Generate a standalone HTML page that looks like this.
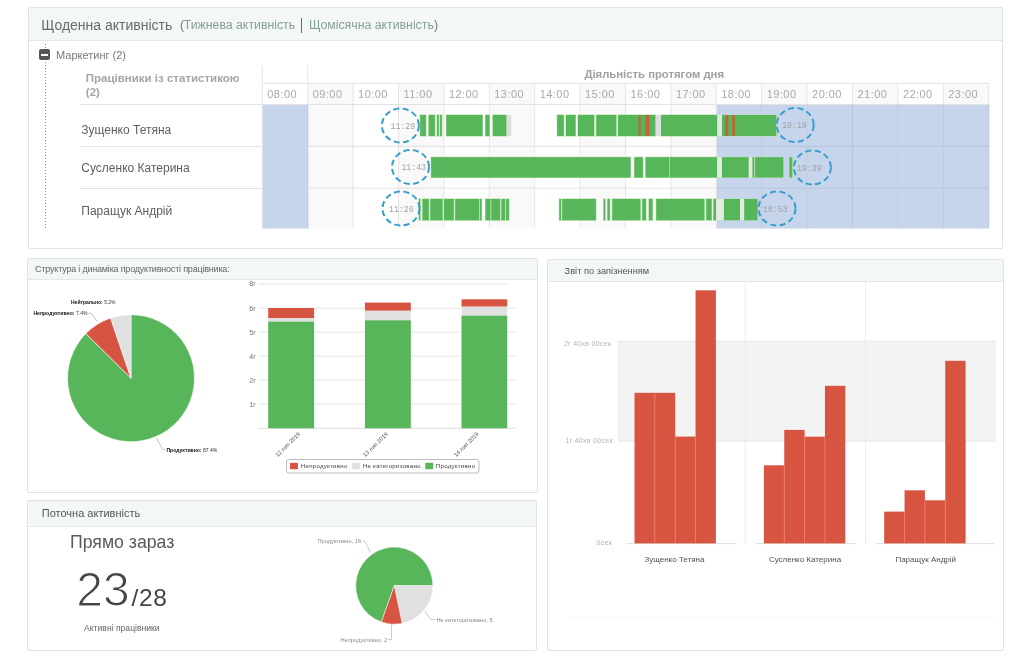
<!DOCTYPE html><html><head><meta charset="utf-8"><style>html,body{margin:0;padding:0;background:#fff;}body{width:1024px;height:663px;overflow:hidden;position:relative;font-family:'Liberation Sans', sans-serif;-webkit-font-smoothing:antialiased;}</style></head><body><div style="position:absolute;left:0;top:0;width:1024px;height:663px;will-change:transform"><div style="position:absolute;left:28px;top:7px;width:975px;height:242px;box-sizing:border-box;border:1px solid #e1e3e3;border-radius:2px;background:#fff;overflow:hidden"><div style="position:absolute;left:0;top:0;right:0;height:32px;background:#f4f7f7;border-bottom:1px solid #e4e7e7"></div></div>
<div style="position:absolute;left:41.30px;top:18.05px;font-size:14px;line-height:14px;color:#6a6a6a;font-weight:400;letter-spacing:0px;white-space:nowrap;font-family:'Liberation Sans', sans-serif;">Щоденна активність</div>
<div style="position:absolute;left:180.00px;top:19.49px;font-size:12.3px;line-height:12.3px;color:#777;font-weight:400;letter-spacing:0px;white-space:nowrap;font-family:'Liberation Sans', sans-serif;">(</div>
<div style="position:absolute;left:183.70px;top:19.49px;font-size:12.3px;line-height:12.3px;color:#86a090;font-weight:400;letter-spacing:0px;white-space:nowrap;font-family:'Liberation Sans', sans-serif;">Тижнева активність</div>
<div style="position:absolute;left:301px;top:18px;width:1.3px;height:15px;background:#666"></div>
<div style="position:absolute;left:308.90px;top:19.49px;font-size:12.3px;line-height:12.3px;color:#86a090;font-weight:400;letter-spacing:0px;white-space:nowrap;font-family:'Liberation Sans', sans-serif;">Щомісячна активність</div>
<div style="position:absolute;left:434.00px;top:19.49px;font-size:12.3px;line-height:12.3px;color:#777;font-weight:400;letter-spacing:0px;white-space:nowrap;font-family:'Liberation Sans', sans-serif;">)</div>
<div style="position:absolute;left:45px;top:44px;width:1px;height:185px;background:repeating-linear-gradient(to bottom,#8a8a8a 0,#8a8a8a 1px,transparent 1px,transparent 3px)"></div>
<div style="position:absolute;left:39px;top:49px;width:11px;height:11px;background:#555;border-radius:2px"></div>
<div style="position:absolute;left:41px;top:54px;width:7px;height:1.5px;background:#fff"></div>
<div style="position:absolute;left:56.00px;top:49.89px;font-size:11px;line-height:11px;color:#777;font-weight:400;letter-spacing:0px;white-space:nowrap;font-family:'Liberation Sans', sans-serif;">Маркетинг (2)</div>
<div style="position:absolute;left:85.80px;top:73.17px;font-size:11.5px;line-height:11.5px;color:#a5a5a5;font-weight:700;letter-spacing:0px;white-space:nowrap;font-family:'Liberation Sans', sans-serif;">Працівники із статистикою</div>
<div style="position:absolute;left:85.80px;top:87.27px;font-size:11.5px;line-height:11.5px;color:#a5a5a5;font-weight:700;letter-spacing:0px;white-space:nowrap;font-family:'Liberation Sans', sans-serif;">(2)</div>
<div style="position:absolute;left:81.30px;top:123.64px;font-size:12px;line-height:12px;color:#5e5e5e;font-weight:400;letter-spacing:0px;white-space:nowrap;font-family:'Liberation Sans', sans-serif;">Зущенко Тетяна</div>
<div style="position:absolute;left:81.30px;top:162.34px;font-size:12px;line-height:12px;color:#5e5e5e;font-weight:400;letter-spacing:0px;white-space:nowrap;font-family:'Liberation Sans', sans-serif;">Сусленко Катерина</div>
<div style="position:absolute;left:81.30px;top:204.74px;font-size:12px;line-height:12px;color:#5e5e5e;font-weight:400;letter-spacing:0px;white-space:nowrap;font-family:'Liberation Sans', sans-serif;">Паращук Андрій</div>
<div style="position:absolute;left:80px;top:104px;width:182px;height:1px;background:#e3e3e3"></div>
<div style="position:absolute;left:80px;top:146px;width:182px;height:1px;background:#e3e3e3"></div>
<div style="position:absolute;left:80px;top:188px;width:182px;height:1px;background:#e3e3e3"></div>
<svg style="position:absolute;left:0;top:0" width="1024" height="663" viewBox="0 0 1024 663"><rect x="307.70" y="83.5" width="45.40" height="145.00" fill="#f9f9fa"/><rect x="398.50" y="83.5" width="45.40" height="145.00" fill="#f9f9fa"/><rect x="489.30" y="83.5" width="45.40" height="145.00" fill="#f9f9fa"/><rect x="580.10" y="83.5" width="45.40" height="145.00" fill="#f9f9fa"/><rect x="670.90" y="83.5" width="45.40" height="145.00" fill="#f9f9fa"/><rect x="761.70" y="83.5" width="45.40" height="145.00" fill="#f9f9fa"/><rect x="852.50" y="83.5" width="45.40" height="145.00" fill="#f9f9fa"/><rect x="943.30" y="83.5" width="45.40" height="145.00" fill="#f9f9fa"/><rect x="262.30" y="104.5" width="45.40" height="124" fill="#c6d5ec"/><rect x="716.30" y="104.5" width="272.40" height="124" fill="#c6d5ec"/><line x1="262.30" y1="83.3" x2="988.70" y2="83.3" stroke="#e2e2e2" stroke-width="1"/><line x1="262.30" y1="104.5" x2="988.70" y2="104.5" stroke="#e2e2e2" stroke-width="1"/><line x1="307.70" y1="146.3" x2="716.30" y2="146.3" stroke="#e2e2e2" stroke-width="1"/><line x1="307.70" y1="188.2" x2="716.30" y2="188.2" stroke="#e2e2e2" stroke-width="1"/><line x1="716.30" y1="146.3" x2="988.70" y2="146.3" stroke="#b5c4dc" stroke-width="1"/><line x1="716.30" y1="188.2" x2="988.70" y2="188.2" stroke="#b5c4dc" stroke-width="1"/><line x1="262.30" y1="65.5" x2="262.30" y2="228.5" stroke="#e6e6e6" stroke-width="1"/><line x1="307.70" y1="65.5" x2="307.70" y2="228.5" stroke="#e6e6e6" stroke-width="1"/><line x1="307.70" y1="104.5" x2="307.70" y2="228.5" stroke="#bcc4e0" stroke-width="1"/><line x1="353.10" y1="83.3" x2="353.10" y2="228.5" stroke="#e6e6e6" stroke-width="1"/><line x1="398.50" y1="83.3" x2="398.50" y2="228.5" stroke="#e6e6e6" stroke-width="1"/><line x1="443.90" y1="83.3" x2="443.90" y2="228.5" stroke="#e6e6e6" stroke-width="1"/><line x1="489.30" y1="83.3" x2="489.30" y2="228.5" stroke="#e6e6e6" stroke-width="1"/><line x1="534.70" y1="83.3" x2="534.70" y2="228.5" stroke="#e6e6e6" stroke-width="1"/><line x1="580.10" y1="83.3" x2="580.10" y2="228.5" stroke="#e6e6e6" stroke-width="1"/><line x1="625.50" y1="83.3" x2="625.50" y2="228.5" stroke="#e6e6e6" stroke-width="1"/><line x1="670.90" y1="83.3" x2="670.90" y2="228.5" stroke="#e6e6e6" stroke-width="1"/><line x1="716.30" y1="83.3" x2="716.30" y2="228.5" stroke="#e6e6e6" stroke-width="1"/><line x1="761.70" y1="83.3" x2="761.70" y2="228.5" stroke="#e6e6e6" stroke-width="1"/><line x1="761.70" y1="104.5" x2="761.70" y2="228.5" stroke="#b7c6dd" stroke-width="1"/><line x1="807.10" y1="83.3" x2="807.10" y2="228.5" stroke="#e6e6e6" stroke-width="1"/><line x1="807.10" y1="104.5" x2="807.10" y2="228.5" stroke="#b7c6dd" stroke-width="1"/><line x1="852.50" y1="83.3" x2="852.50" y2="228.5" stroke="#e6e6e6" stroke-width="1"/><line x1="852.50" y1="104.5" x2="852.50" y2="228.5" stroke="#b7c6dd" stroke-width="1"/><line x1="897.90" y1="83.3" x2="897.90" y2="228.5" stroke="#e6e6e6" stroke-width="1"/><line x1="897.90" y1="104.5" x2="897.90" y2="228.5" stroke="#b7c6dd" stroke-width="1"/><line x1="943.30" y1="83.3" x2="943.30" y2="228.5" stroke="#e6e6e6" stroke-width="1"/><line x1="943.30" y1="104.5" x2="943.30" y2="228.5" stroke="#b7c6dd" stroke-width="1"/><line x1="988.70" y1="83.3" x2="988.70" y2="228.5" stroke="#e6e6e6" stroke-width="1"/><line x1="988.70" y1="104.5" x2="988.70" y2="228.5" stroke="#b7c6dd" stroke-width="1"/><text x="267.30" y="97.8" font-size="11" letter-spacing="0.45" fill="#a8a8a8" font-family="Liberation Sans">08:00</text><text x="312.70" y="97.8" font-size="11" letter-spacing="0.45" fill="#a8a8a8" font-family="Liberation Sans">09:00</text><text x="358.10" y="97.8" font-size="11" letter-spacing="0.45" fill="#a8a8a8" font-family="Liberation Sans">10:00</text><text x="403.50" y="97.8" font-size="11" letter-spacing="0.45" fill="#a8a8a8" font-family="Liberation Sans">11:00</text><text x="448.90" y="97.8" font-size="11" letter-spacing="0.45" fill="#a8a8a8" font-family="Liberation Sans">12:00</text><text x="494.30" y="97.8" font-size="11" letter-spacing="0.45" fill="#a8a8a8" font-family="Liberation Sans">13:00</text><text x="539.70" y="97.8" font-size="11" letter-spacing="0.45" fill="#a8a8a8" font-family="Liberation Sans">14:00</text><text x="585.10" y="97.8" font-size="11" letter-spacing="0.45" fill="#a8a8a8" font-family="Liberation Sans">15:00</text><text x="630.50" y="97.8" font-size="11" letter-spacing="0.45" fill="#a8a8a8" font-family="Liberation Sans">16:00</text><text x="675.90" y="97.8" font-size="11" letter-spacing="0.45" fill="#a8a8a8" font-family="Liberation Sans">17:00</text><text x="721.30" y="97.8" font-size="11" letter-spacing="0.45" fill="#a8a8a8" font-family="Liberation Sans">18:00</text><text x="766.70" y="97.8" font-size="11" letter-spacing="0.45" fill="#a8a8a8" font-family="Liberation Sans">19:00</text><text x="812.10" y="97.8" font-size="11" letter-spacing="0.45" fill="#a8a8a8" font-family="Liberation Sans">20:00</text><text x="857.50" y="97.8" font-size="11" letter-spacing="0.45" fill="#a8a8a8" font-family="Liberation Sans">21:00</text><text x="902.90" y="97.8" font-size="11" letter-spacing="0.45" fill="#a8a8a8" font-family="Liberation Sans">22:00</text><text x="948.30" y="97.8" font-size="11" letter-spacing="0.45" fill="#a8a8a8" font-family="Liberation Sans">23:00</text><text x="584.4" y="77.6" font-size="11.3" font-weight="bold" fill="#a0a0a0" font-family="Liberation Sans">Діяльність протягом дня</text><rect x="420.20" y="115" width="5.70" height="21" fill="#57b55a" stroke="#b2e0a6" stroke-width="1.1" paint-order="stroke"/><rect x="428.80" y="115" width="6.10" height="21" fill="#57b55a" stroke="#b2e0a6" stroke-width="1.1" paint-order="stroke"/><rect x="437.10" y="115" width="1.70" height="21" fill="#57b55a" stroke="#b2e0a6" stroke-width="1.1" paint-order="stroke"/><rect x="440.10" y="115" width="1.80" height="21" fill="#57b55a" stroke="#b2e0a6" stroke-width="1.1" paint-order="stroke"/><rect x="446.40" y="115" width="36.10" height="21" fill="#57b55a" stroke="#b2e0a6" stroke-width="1.1" paint-order="stroke"/><rect x="485.50" y="115" width="3.90" height="21" fill="#57b55a" stroke="#b2e0a6" stroke-width="1.1" paint-order="stroke"/><rect x="492.90" y="115" width="13.70" height="21" fill="#57b55a" stroke="#b2e0a6" stroke-width="1.1" paint-order="stroke"/><rect x="557.20" y="115" width="6.60" height="21" fill="#57b55a" stroke="#b2e0a6" stroke-width="1.1" paint-order="stroke"/><rect x="566.00" y="115" width="9.50" height="21" fill="#57b55a" stroke="#b2e0a6" stroke-width="1.1" paint-order="stroke"/><rect x="578.00" y="115" width="16.10" height="21" fill="#57b55a" stroke="#b2e0a6" stroke-width="1.1" paint-order="stroke"/><rect x="596.30" y="115" width="19.90" height="21" fill="#57b55a" stroke="#b2e0a6" stroke-width="1.1" paint-order="stroke"/><rect x="618.10" y="115" width="37.50" height="21" fill="#57b55a" stroke="#b2e0a6" stroke-width="1.1" paint-order="stroke"/><rect x="661.10" y="115" width="56.20" height="21" fill="#57b55a" stroke="#b2e0a6" stroke-width="1.1" paint-order="stroke"/><rect x="722.00" y="115" width="54.20" height="21" fill="#57b55a" stroke="#b2e0a6" stroke-width="1.1" paint-order="stroke"/><rect x="506.60" y="115" width="4.70" height="21" fill="#dedede"/><rect x="655.60" y="115" width="5.40" height="21" fill="#dedede"/><rect x="717.30" y="115" width="4.70" height="21" fill="#e2e8e3"/><rect x="638.60" y="115" width="2.00" height="21" fill="#c4623a"/><rect x="645.50" y="115" width="3.90" height="21" fill="#c4623a"/><rect x="725.40" y="115" width="2.90" height="21" fill="#c4623a"/><rect x="732.20" y="115" width="2.60" height="21" fill="#c4623a"/><rect x="431.20" y="157.2" width="199.30" height="20.30000000000001" fill="#57b55a" stroke="#b2e0a6" stroke-width="1.1" paint-order="stroke"/><rect x="634.40" y="157.2" width="8.50" height="20.30000000000001" fill="#57b55a" stroke="#b2e0a6" stroke-width="1.1" paint-order="stroke"/><rect x="645.70" y="157.2" width="23.40" height="20.30000000000001" fill="#57b55a" stroke="#b2e0a6" stroke-width="1.1" paint-order="stroke"/><rect x="669.80" y="157.2" width="47.40" height="20.30000000000001" fill="#57b55a" stroke="#b2e0a6" stroke-width="1.1" paint-order="stroke"/><rect x="721.90" y="157.2" width="26.90" height="20.30000000000001" fill="#57b55a" stroke="#b2e0a6" stroke-width="1.1" paint-order="stroke"/><rect x="752.30" y="157.2" width="1.90" height="20.30000000000001" fill="#57b55a" stroke="#b2e0a6" stroke-width="1.1" paint-order="stroke"/><rect x="755.10" y="157.2" width="28.20" height="20.30000000000001" fill="#57b55a" stroke="#b2e0a6" stroke-width="1.1" paint-order="stroke"/><rect x="789.40" y="157.2" width="2.80" height="20.30000000000001" fill="#57b55a" stroke="#b2e0a6" stroke-width="1.1" paint-order="stroke"/><rect x="717.20" y="157.2" width="4.70" height="20.30000000000001" fill="#e4ebe3"/><rect x="748.80" y="157.2" width="3.50" height="20.30000000000001" fill="#e4ebe3"/><rect x="419.00" y="199" width="1.20" height="21.19999999999999" fill="#57b55a" stroke="#b2e0a6" stroke-width="1.1" paint-order="stroke"/><rect x="422.60" y="199" width="6.20" height="21.19999999999999" fill="#57b55a" stroke="#b2e0a6" stroke-width="1.1" paint-order="stroke"/><rect x="430.40" y="199" width="12.10" height="21.19999999999999" fill="#57b55a" stroke="#b2e0a6" stroke-width="1.1" paint-order="stroke"/><rect x="444.00" y="199" width="9.80" height="21.19999999999999" fill="#57b55a" stroke="#b2e0a6" stroke-width="1.1" paint-order="stroke"/><rect x="455.20" y="199" width="24.00" height="21.19999999999999" fill="#57b55a" stroke="#b2e0a6" stroke-width="1.1" paint-order="stroke"/><rect x="480.00" y="199" width="1.60" height="21.19999999999999" fill="#57b55a" stroke="#b2e0a6" stroke-width="1.1" paint-order="stroke"/><rect x="485.50" y="199" width="4.90" height="21.19999999999999" fill="#57b55a" stroke="#b2e0a6" stroke-width="1.1" paint-order="stroke"/><rect x="491.30" y="199" width="8.80" height="21.19999999999999" fill="#57b55a" stroke="#b2e0a6" stroke-width="1.1" paint-order="stroke"/><rect x="501.50" y="199" width="3.50" height="21.19999999999999" fill="#57b55a" stroke="#b2e0a6" stroke-width="1.1" paint-order="stroke"/><rect x="506.00" y="199" width="2.90" height="21.19999999999999" fill="#57b55a" stroke="#b2e0a6" stroke-width="1.1" paint-order="stroke"/><rect x="559.30" y="199" width="1.70" height="21.19999999999999" fill="#57b55a" stroke="#b2e0a6" stroke-width="1.1" paint-order="stroke"/><rect x="562.20" y="199" width="33.70" height="21.19999999999999" fill="#57b55a" stroke="#b2e0a6" stroke-width="1.1" paint-order="stroke"/><rect x="603.70" y="199" width="1.50" height="21.19999999999999" fill="#57b55a" stroke="#b2e0a6" stroke-width="1.1" paint-order="stroke"/><rect x="607.60" y="199" width="2.20" height="21.19999999999999" fill="#57b55a" stroke="#b2e0a6" stroke-width="1.1" paint-order="stroke"/><rect x="612.30" y="199" width="28.00" height="21.19999999999999" fill="#57b55a" stroke="#b2e0a6" stroke-width="1.1" paint-order="stroke"/><rect x="642.30" y="199" width="3.70" height="21.19999999999999" fill="#57b55a" stroke="#b2e0a6" stroke-width="1.1" paint-order="stroke"/><rect x="648.90" y="199" width="3.60" height="21.19999999999999" fill="#57b55a" stroke="#b2e0a6" stroke-width="1.1" paint-order="stroke"/><rect x="656.20" y="199" width="48.10" height="21.19999999999999" fill="#57b55a" stroke="#b2e0a6" stroke-width="1.1" paint-order="stroke"/><rect x="706.30" y="199" width="5.30" height="21.19999999999999" fill="#57b55a" stroke="#b2e0a6" stroke-width="1.1" paint-order="stroke"/><rect x="713.60" y="199" width="2.40" height="21.19999999999999" fill="#57b55a" stroke="#b2e0a6" stroke-width="1.1" paint-order="stroke"/><rect x="723.80" y="199" width="16.20" height="21.19999999999999" fill="#57b55a" stroke="#b2e0a6" stroke-width="1.1" paint-order="stroke"/><rect x="744.10" y="199" width="13.40" height="21.19999999999999" fill="#57b55a" stroke="#b2e0a6" stroke-width="1.1" paint-order="stroke"/><rect x="716.00" y="199" width="7.80" height="21.19999999999999" fill="#e4ebe3"/><rect x="740.00" y="199" width="4.10" height="21.19999999999999" fill="#e4ebe3"/><ellipse cx="400.4" cy="125.5" rx="18.5" ry="17" fill="none" stroke="#379dcc" stroke-width="2" stroke-dasharray="6 3.5"/><text x="402.9" y="128.7" font-size="8.2" fill="#a2a2a2" text-anchor="middle" font-family="Liberation Mono">11:29</text><ellipse cx="410.5" cy="167.0" rx="18.5" ry="17" fill="none" stroke="#379dcc" stroke-width="2" stroke-dasharray="6 3.5"/><text x="413.7" y="170.2" font-size="8.2" fill="#a2a2a2" text-anchor="middle" font-family="Liberation Mono">11:43</text><ellipse cx="401.0" cy="208.5" rx="18.5" ry="17" fill="none" stroke="#379dcc" stroke-width="2" stroke-dasharray="6 3.5"/><text x="401.3" y="211.7" font-size="8.2" fill="#a2a2a2" text-anchor="middle" font-family="Liberation Mono">11:26</text><ellipse cx="795.2" cy="125.0" rx="18.5" ry="17" fill="none" stroke="#379dcc" stroke-width="2" stroke-dasharray="6 3.5"/><text x="794.5" y="128.2" font-size="8.2" fill="#a2a2a2" text-anchor="middle" font-family="Liberation Mono">19:19</text><ellipse cx="812.4" cy="167.5" rx="18.5" ry="17" fill="none" stroke="#379dcc" stroke-width="2" stroke-dasharray="6 3.5"/><text x="809.3" y="170.7" font-size="8.2" fill="#a2a2a2" text-anchor="middle" font-family="Liberation Mono">19:39</text><ellipse cx="777.0" cy="208.5" rx="18.5" ry="17" fill="none" stroke="#379dcc" stroke-width="2" stroke-dasharray="6 3.5"/><text x="775.2" y="211.7" font-size="8.2" fill="#a2a2a2" text-anchor="middle" font-family="Liberation Mono">18:53</text></svg>
<div style="position:absolute;left:27px;top:258px;width:511px;height:235px;box-sizing:border-box;border:1px solid #e1e3e3;border-radius:2px;background:#fff;overflow:hidden"><div style="position:absolute;left:0;top:0;right:0;height:20px;background:#f4f7f7;border-bottom:1px solid #e4e7e7"></div></div>
<div style="position:absolute;left:35.10px;top:264.78px;font-size:9px;line-height:9px;color:#666;font-weight:400;letter-spacing:-0.2px;white-space:nowrap;font-family:'Liberation Sans', sans-serif;">Структура і динаміка продуктивності працівника:</div>
<svg style="position:absolute;left:0;top:0" width="1024" height="663" viewBox="0 0 1024 663"><path d="M131.00,378.20 L131.00,314.70 A63.5,63.5 0 1 1 85.82,333.58 Z" fill="#58b65a" stroke="#fff" stroke-width="0.6"/><path d="M131.00,378.20 L85.82,333.58 A63.5,63.5 0 0 1 110.62,318.06 Z" fill="#d75442" stroke="#fff" stroke-width="0.6"/><path d="M131.00,378.20 L110.62,318.06 A63.5,63.5 0 0 1 131.00,314.70 Z" fill="#e0e0e0" stroke="#fff" stroke-width="0.6"/><path d="M88,313.3 L91.5,313.3 L97,321.5" fill="none" stroke="#999" stroke-width="0.6"/><path d="M156.3,437.8 L162.5,449.3 L165.5,449.3" fill="none" stroke="#999" stroke-width="0.6"/><text x="71" y="303.6" font-size="5" font-family="Liberation Sans" fill="#333"><tspan font-weight="bold" fill="#111">Нейтрально:</tspan> 5.2%</text><text x="33.4" y="315.3" font-size="5.1" font-family="Liberation Sans" fill="#333"><tspan font-weight="bold" fill="#111">Непродуктивно:</tspan> 7.4%</text><text x="166.4" y="451.7" font-size="5.1" font-family="Liberation Sans" fill="#333"><tspan font-weight="bold" fill="#111">Продуктивно:</tspan> 87.4%</text><line x1="258.8" y1="283.9" x2="508.6" y2="283.9" stroke="#e4e4e4" stroke-width="1"/><text x="255.8" y="286.4" font-size="7" font-family="Liberation Sans" fill="#707070" text-anchor="end">8г</text><line x1="258.8" y1="308.2" x2="516" y2="308.2" stroke="#e4e4e4" stroke-width="1"/><text x="255.8" y="310.7" font-size="7" font-family="Liberation Sans" fill="#707070" text-anchor="end">6г</text><line x1="258.8" y1="332.2" x2="516" y2="332.2" stroke="#e4e4e4" stroke-width="1"/><text x="255.8" y="334.7" font-size="7" font-family="Liberation Sans" fill="#707070" text-anchor="end">5г</text><line x1="258.8" y1="356.2" x2="516" y2="356.2" stroke="#e4e4e4" stroke-width="1"/><text x="255.8" y="358.7" font-size="7" font-family="Liberation Sans" fill="#707070" text-anchor="end">4г</text><line x1="258.8" y1="380.1" x2="516" y2="380.1" stroke="#e4e4e4" stroke-width="1"/><text x="255.8" y="382.6" font-size="7" font-family="Liberation Sans" fill="#707070" text-anchor="end">2г</text><line x1="258.8" y1="404.0" x2="516" y2="404.0" stroke="#e4e4e4" stroke-width="1"/><text x="255.8" y="406.5" font-size="7" font-family="Liberation Sans" fill="#707070" text-anchor="end">1г</text><line x1="258.8" y1="428.3" x2="515.5" y2="428.3" stroke="#dcdcdc" stroke-width="1"/><rect x="268.2" y="308.0" width="45.9" height="10.2" fill="#d75442"/><rect x="268.2" y="318.2" width="45.9" height="3.4" fill="#e0e0e0"/><rect x="268.2" y="321.6" width="45.9" height="106.7" fill="#58b65a"/><rect x="364.9" y="302.6" width="45.9" height="8.2" fill="#d75442"/><rect x="364.9" y="310.8" width="45.9" height="9.5" fill="#e0e0e0"/><rect x="364.9" y="320.3" width="45.9" height="108.0" fill="#58b65a"/><rect x="461.5" y="299.3" width="45.7" height="7.4" fill="#d75442"/><rect x="461.5" y="306.7" width="45.7" height="9.0" fill="#e0e0e0"/><rect x="461.5" y="315.7" width="45.7" height="112.6" fill="#58b65a"/><text x="300.5" y="434.5" font-size="5.8" font-family="Liberation Sans" fill="#555" text-anchor="end" transform="rotate(-45 300.5 434.5)">12 лип 2019</text><text x="388.2" y="434.5" font-size="5.8" font-family="Liberation Sans" fill="#555" text-anchor="end" transform="rotate(-45 388.2 434.5)">13 лип 2019</text><text x="479.0" y="434.5" font-size="5.8" font-family="Liberation Sans" fill="#555" text-anchor="end" transform="rotate(-45 479.0 434.5)">14 лип 2019</text><rect x="286.5" y="459.5" width="192.5" height="13.5" rx="2.5" fill="#fff" stroke="#aaa" stroke-width="0.8"/><rect x="290" y="462.8" width="8" height="6.5" rx="1" fill="#d75442"/><text x="300.8" y="468.4" font-size="6.2" letter-spacing="0.22" font-family="Liberation Sans" fill="#444">Непродуктивно</text><rect x="352.2" y="462.8" width="8" height="6.5" rx="1" fill="#e0e0e0"/><text x="362.8" y="468.4" font-size="6.2" letter-spacing="0.22" font-family="Liberation Sans" fill="#444">Не категоризовано</text><rect x="425.2" y="462.8" width="8" height="6.5" rx="1" fill="#58b65a"/><text x="435.8" y="468.4" font-size="6.2" letter-spacing="0.22" font-family="Liberation Sans" fill="#444">Продуктивно</text></svg>
<div style="position:absolute;left:27px;top:500px;width:510px;height:151px;box-sizing:border-box;border:1px solid #e1e3e3;border-radius:2px;background:#fff;overflow:hidden"><div style="position:absolute;left:0;top:0;right:0;height:25px;background:#f4f7f7;border-bottom:1px solid #e4e7e7"></div></div>
<div style="position:absolute;left:41.80px;top:508.49px;font-size:11px;line-height:11px;color:#555;font-weight:400;letter-spacing:0px;white-space:nowrap;font-family:'Liberation Sans', sans-serif;">Поточна активність</div>
<div style="position:absolute;left:70.00px;top:534.22px;font-size:17.7px;line-height:17.7px;color:#5a5a5a;font-weight:400;letter-spacing:0px;white-space:nowrap;font-family:'Liberation Sans', sans-serif;">Прямо зараз</div>
<div style="position:absolute;left:76.30px;top:566.17px;font-size:48px;line-height:48px;color:#444;font-weight:400;letter-spacing:0px;white-space:nowrap;font-family:'Liberation Sans', sans-serif;-webkit-text-stroke:1.1px #fff;">23</div>
<div style="position:absolute;left:131.50px;top:586.06px;font-size:24.5px;line-height:24.5px;color:#444;font-weight:400;letter-spacing:0.6px;white-space:nowrap;font-family:'Liberation Sans', sans-serif;">/28</div>
<div style="position:absolute;left:84.00px;top:624.22px;font-size:8.6px;line-height:8.6px;color:#666;font-weight:400;letter-spacing:0px;white-space:nowrap;font-family:'Liberation Sans', sans-serif;">Активні працівники</div>
<div style="position:absolute;left:547px;top:259px;width:457px;height:392px;box-sizing:border-box;border:1px solid #e1e3e3;border-radius:2px;background:#fff;overflow:hidden"><div style="position:absolute;left:0;top:0;right:0;height:21px;background:#f4f7f7;border-bottom:1px solid #e4e7e7"></div></div>
<div style="position:absolute;left:564.60px;top:267.07px;font-size:9.25px;line-height:9.25px;color:#555;font-weight:400;letter-spacing:0px;white-space:nowrap;font-family:'Liberation Sans', sans-serif;">Звіт по запізненням</div>
<svg style="position:absolute;left:0;top:0" width="1024" height="663" viewBox="0 0 1024 663"><path d="M394.30,585.70 L381.37,622.07 A38.6,38.6 0 1 1 432.90,585.70 Z" fill="#58b65a" stroke="#fff" stroke-width="0.5"/><path d="M394.30,585.70 L432.90,585.70 A38.6,38.6 0 0 1 402.15,623.49 Z" fill="#e0e0e0" stroke="#fff" stroke-width="0.5"/><path d="M394.30,585.70 L402.15,623.49 A38.6,38.6 0 0 1 381.37,622.07 Z" fill="#d75442" stroke="#fff" stroke-width="0.5"/><path d="M362.7,541.4 L365,541.4 L370.6,552.8" fill="none" stroke="#aaa" stroke-width="0.6"/><path d="M425,611 L430.5,619.5 L435,619.5" fill="none" stroke="#aaa" stroke-width="0.6"/><path d="M391.5,624.5 L391.5,639.5 L388,639.5" fill="none" stroke="#aaa" stroke-width="0.6"/><text x="317.5" y="543.4" font-size="5.7" font-family="Liberation Sans" fill="#8a8a8a">Продуктивно, 16</text><text x="436.5" y="621.6" font-size="5.7" font-family="Liberation Sans" fill="#8a8a8a">Не категоризовано, 5</text><text x="340.5" y="642" font-size="5.7" font-family="Liberation Sans" fill="#8a8a8a">Непродуктивно, 2</text></svg>
<svg style="position:absolute;left:0;top:0" width="1024" height="663" viewBox="0 0 1024 663"><line x1="570" y1="617.5" x2="996" y2="617.5" stroke="#f6f6f6" stroke-width="1"/><rect x="617.7" y="341.2" width="378.3" height="100" fill="#f3f3f3"/><line x1="745.3" y1="282" x2="745.3" y2="543.5" stroke="#ececec" stroke-width="1"/><line x1="865.6" y1="282" x2="865.6" y2="543.5" stroke="#ececec" stroke-width="1"/><line x1="617.7" y1="341.2" x2="996" y2="341.2" stroke="#e6e6e6" stroke-width="1"/><line x1="617.7" y1="441.2" x2="996" y2="441.2" stroke="#e6e6e6" stroke-width="1"/><line x1="626.8" y1="543.6" x2="736.8" y2="543.6" stroke="#dedede" stroke-width="1"/><line x1="755.5" y1="543.6" x2="856" y2="543.6" stroke="#dedede" stroke-width="1"/><line x1="876" y1="543.6" x2="994" y2="543.6" stroke="#dedede" stroke-width="1"/><text x="611.3" y="345.6" font-size="7.1" letter-spacing="0.25" font-family="Liberation Sans" fill="#b4b4b4" text-anchor="end">2г 40хв 00сек</text><text x="612.8" y="442.9" font-size="7.1" letter-spacing="0.25" font-family="Liberation Sans" fill="#b4b4b4" text-anchor="end">1г 40хв 00сек</text><text x="612.0" y="544.8" font-size="7.1" letter-spacing="0.25" font-family="Liberation Sans" fill="#b4b4b4" text-anchor="end">0сек</text><rect x="634.50" y="392.8" width="20.35" height="150.6" fill="#d75540"/><rect x="654.85" y="392.8" width="20.35" height="150.6" fill="#d75540"/><rect x="675.20" y="436.6" width="20.35" height="106.8" fill="#d75540"/><rect x="695.55" y="290.3" width="20.35" height="253.1" fill="#d75540"/><line x1="654.85" y1="392.8" x2="654.85" y2="543.4" stroke="#ee7866" stroke-width="0.9"/><line x1="675.20" y1="436.6" x2="675.20" y2="543.4" stroke="#ee7866" stroke-width="0.9"/><line x1="695.55" y1="436.6" x2="695.55" y2="543.4" stroke="#ee7866" stroke-width="0.9"/><rect x="763.90" y="465.3" width="20.35" height="78.1" fill="#d75540"/><rect x="784.25" y="429.9" width="20.35" height="113.5" fill="#d75540"/><rect x="804.60" y="436.7" width="20.35" height="106.7" fill="#d75540"/><rect x="824.95" y="385.8" width="20.35" height="157.6" fill="#d75540"/><line x1="784.25" y1="465.3" x2="784.25" y2="543.4" stroke="#ee7866" stroke-width="0.9"/><line x1="804.60" y1="436.7" x2="804.60" y2="543.4" stroke="#ee7866" stroke-width="0.9"/><line x1="824.95" y1="436.7" x2="824.95" y2="543.4" stroke="#ee7866" stroke-width="0.9"/><rect x="884.20" y="511.6" width="20.35" height="31.8" fill="#d75540"/><rect x="904.55" y="490.3" width="20.35" height="53.1" fill="#d75540"/><rect x="924.90" y="500.3" width="20.35" height="43.1" fill="#d75540"/><rect x="945.25" y="360.8" width="20.35" height="182.6" fill="#d75540"/><line x1="904.55" y1="511.6" x2="904.55" y2="543.4" stroke="#ee7866" stroke-width="0.9"/><line x1="924.90" y1="500.3" x2="924.90" y2="543.4" stroke="#ee7866" stroke-width="0.9"/><line x1="945.25" y1="500.3" x2="945.25" y2="543.4" stroke="#ee7866" stroke-width="0.9"/><text x="674.4" y="562.2" font-size="8" font-family="Liberation Sans" fill="#505050" text-anchor="middle">Зущенко Тетяна</text><text x="805.0" y="562.2" font-size="8" font-family="Liberation Sans" fill="#505050" text-anchor="middle">Сусленко Катерина</text><text x="925.7" y="562.2" font-size="8" font-family="Liberation Sans" fill="#505050" text-anchor="middle">Паращук Андрій</text></svg></div></body></html>
